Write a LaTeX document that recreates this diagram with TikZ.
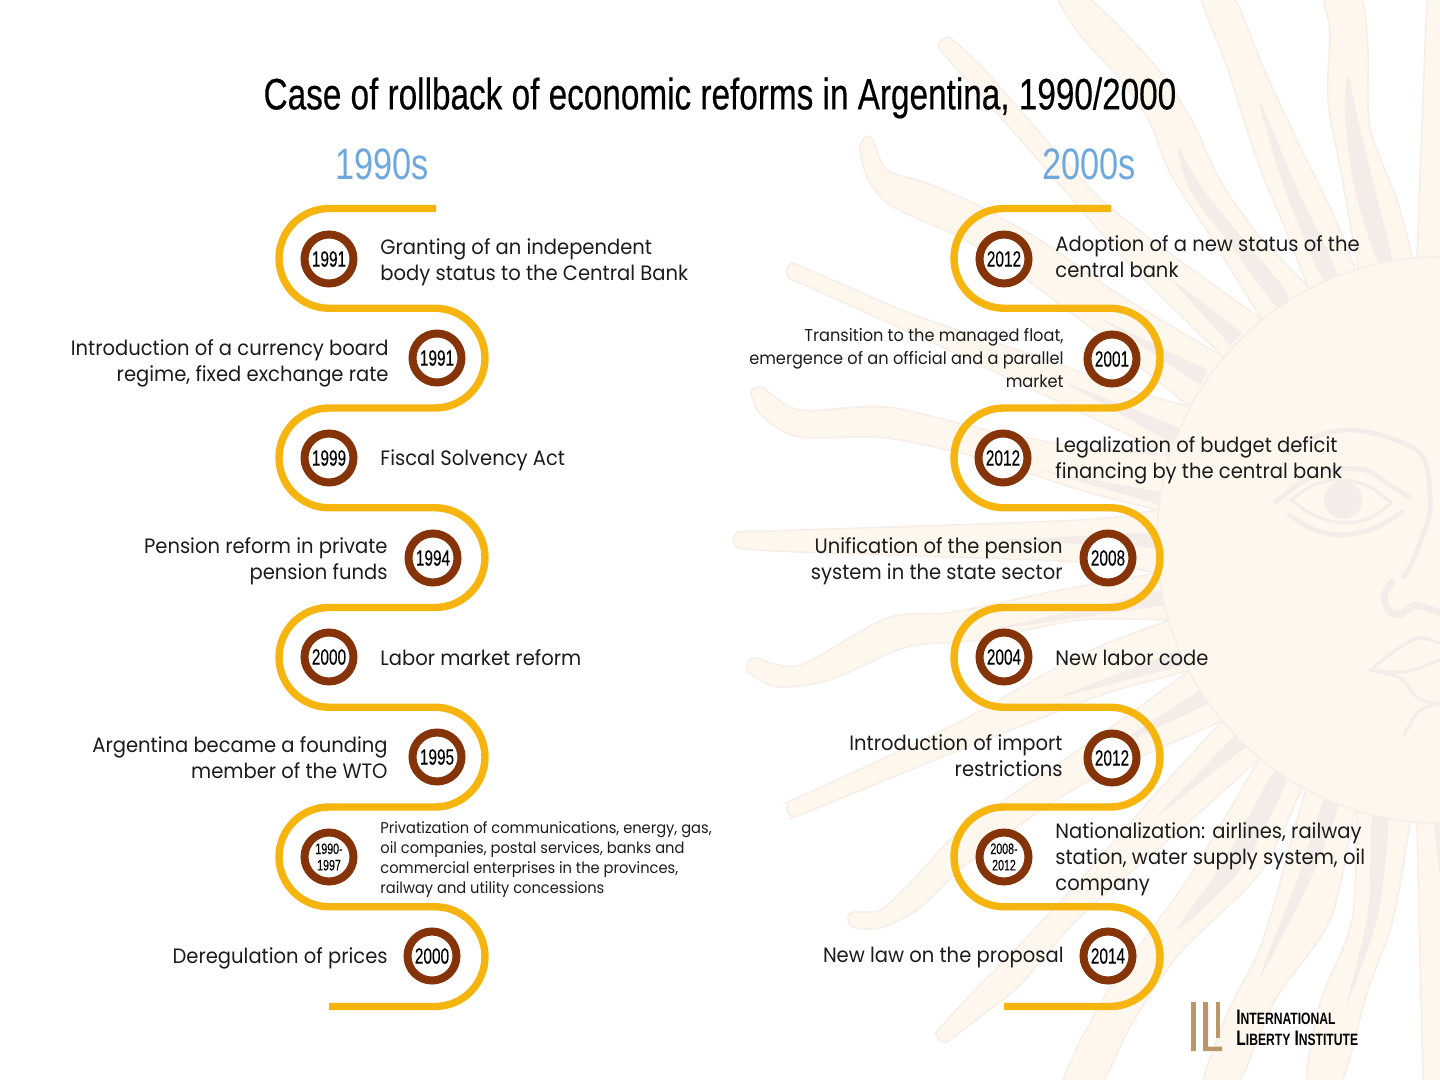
\documentclass[tikz,border=0pt]{standalone}
\usepackage{fontspec}
\setmainfont[FakeStretch=0.94]{Poppins}
\newfontfamily\oswald[FakeStretch=0.70,FakeBold=0.08]{Liberation Sans}
\newfontfamily\oswaldtitle[FakeStretch=0.757,FakeBold=0.3]{Liberation Sans}
\newfontfamily\oswaldlight[FakeStretch=0.78]{Liberation Sans}
\newfontfamily\oswaldbold[FakeStretch=0.74]{Liberation Sans Bold}
\definecolor{sunfill}{HTML}{FEF7ED}
\definecolor{sunline}{HTML}{F6EEE8}
\definecolor{sunshade}{HTML}{F4ECE8}
\definecolor{snakegold}{HTML}{F6B40E}
\definecolor{ringbrown}{HTML}{85340A}
\definecolor{headblue}{HTML}{6FA8DC}
\definecolor{logobrown}{HTML}{BC966B}
\definecolor{bodyink}{HTML}{1C1C1C}
\newcommand{\logocaps}[2]{{\fontsize{10.5}{10.5}\selectfont #1}{\fontsize{8.2}{10.5}\selectfont #2}}
\tikzset{
    sunray/.style={fill=sunfill,draw=sunline,line width=0.8pt},
    sunstripe/.style={fill=sunshade},
    faceline/.style={draw=sunshade,line width=1.6pt,line cap=round},
    snakeline/.style={draw=snakegold,line width=3.7pt,rounded corners=25pt},
    yearring/.style={circle,draw=ringbrown,fill=white,line width=4pt,minimum size=24.5pt,inner sep=0pt,
        font=\oswald\fontsize{11}{11}\selectfont},
    yearsmall/.style={yearring,align=center,font=\oswald\fontsize{7.6}{8.2}\selectfont},
    stepleft/.style={anchor=west,inner sep=0pt,align=left,text=bodyink,font=\fontsize{10.4}{13}\selectfont},
    stepright/.style={anchor=east,inner sep=0pt,align=right,text=bodyink,font=\fontsize{10.4}{13}\selectfont},
    header/.style={inner sep=0pt,text=headblue,font=\oswaldlight\fontsize{22}{22}\selectfont},
}
\begin{document}
\begin{tikzpicture}[x=0.5pt,y=-0.5pt]
    \useasboundingbox (0,0) rectangle (1440,1080);

    % Draw sun behind the text
    \begin{scope}
        \clip (0,0) rectangle (1440,1080);

        % upper rays
        \draw[sunray] plot[smooth cycle] coordinates {(1085,-5) (1153,63) (1190,117) (1220,180) (1257,233) (1308,287) (1330,320) (1280,340) (1262,320) (1213,240) (1170,173) (1150,123) (1123,83) (1080,35) (1057,-5)};
        \draw[sunray] plot[smooth cycle] coordinates {(1201,-5) (1227,67) (1257,160) (1287,233) (1308,287) (1320,310) (1370,300) (1355,267) (1330,207) (1297,140) (1263,67) (1232,-5)};
        \draw[sunray] plot[smooth cycle] coordinates {(1325,-5) (1330,33) (1328,100) (1343,183) (1358,267) (1365,300) (1415,290) (1412,257) (1397,200) (1370,127) (1368,50) (1360,-5)};
        \draw[sunray] (1427,-5) -- (1417,257) -- (1417,300) -- (1470,300) -- (1470,-5) -- cycle;
        \draw[sunray] plot[smooth cycle] coordinates {(945,38) (953,40) (985,70) (1014,103) (1110,207) (1262,320) (1290,345) (1250,385) (1223,357) (1130,265) (1060,185) (997,113) (965,78) (942,52) (938,44)};
        \draw[sunray] plot[smooth cycle] coordinates {(865,137) (873,140) (887,170) (927,183) (977,205) (1040,240) (1120,295) (1223,357) (1245,375) (1215,425) (1190,407) (1100,335) (1020,275) (960,237) (927,223) (887,203) (867,177) (860,150)};
        \draw[sunray] plot[smooth cycle] coordinates {(786,271) (790,265) (798,265) (860,292) (920,317) (1053,362) (1130,390) (1190,407) (1215,418) (1195,470) (1170,455) (1080,412) (933,343) (860,310) (800,283) (790,279)};
        \draw[sunray] plot[smooth cycle] coordinates {(752,390) (763,388) (800,410) (887,407) (987,430) (1080,447) (1170,455) (1195,460) (1185,515) (1158,510) (1080,490) (987,460) (887,438) (800,437) (763,417) (752,397)};
        \draw[sunray] plot[smooth cycle] coordinates {(733,540) (737,533) (745,531.5) (800,530) (1080,520) (1158,510) (1190,510) (1190,575) (1158,573) (1080,562) (800,552) (745,549) (737,547)};

        % lower rays
        \draw[sunray] plot[smooth cycle] coordinates {(748,664) (755,658) (800,665) (887,618) (953,612) (1060,590) (1158,573) (1185,570) (1195,620) (1170,620) (1080,620) (980,640) (907,647) (830,680) (777,687) (748,672)};
        \draw[sunray] plot[smooth cycle] coordinates {(787,810) (788,803) (795,799) (880,760) (963,720) (1080,655) (1170,620) (1195,612) (1215,660) (1190,670) (1110,692) (1057,712) (930,762) (800,815) (792,816)};
        \draw[sunray] plot[smooth cycle] coordinates {(848,917) (853,912) (880,910) (910,883) (953,837) (1000,803) (1100,735) (1190,670) (1215,650) (1245,700) (1223,720) (1100,775) (1037,813) (963,867) (917,910) (880,928) (853,927)};
        \draw[sunray] plot[smooth cycle] coordinates {(938,1030) (975,990) (1010,955) (1080,880) (1150,800) (1223,720) (1250,695) (1285,735) (1260,758) (1180,830) (1080,917) (1020,985) (985,1013) (950,1040) (942,1042) (937,1036)};
        \draw[sunray] plot[smooth cycle] coordinates {(1062,1085) (1110,987) (1187,880) (1260,758) (1280,730) (1325,765) (1302,790) (1260,873) (1180,953) (1130,1027) (1100,1085)};
        \draw[sunray] plot[smooth cycle] coordinates {(1203,1085) (1230,1007) (1263,940) (1305,792) (1315,770) (1365,785) (1355,812) (1330,920) (1275,1000) (1237,1085)};
        \draw[sunray] plot[smooth cycle] coordinates {(1307,1085) (1320,1003) (1352,920) (1357,813) (1362,785) (1415,795) (1410,823) (1393,920) (1367,993) (1340,1085)};
        \draw[sunray] (1423,1085) -- (1417,823) -- (1417,790) -- (1470,790) -- (1470,1085) -- cycle;

        % shaded stripes on rays
        \fill[sunstripe] plot[smooth cycle] coordinates {(1178,147) (1190,190) (1230,245) (1277,307) (1287,293) (1240,235) (1200,185)};
        \fill[sunstripe] plot[smooth cycle] coordinates {(1260,103) (1285,190) (1323,280) (1337,273) (1300,195)};
        \fill[sunstripe] plot[smooth cycle] coordinates {(1348,77) (1345,117) (1355,190) (1377,260) (1392,260) (1375,190) (1358,120)};
        \fill[sunstripe] (1170,278) -- (1230,345) -- (1243,333) -- cycle;
        \fill[sunstripe] (1100,318) -- (1200,385) -- (1208,370) -- cycle;
        \fill[sunstripe] (1060,380) -- (1175,445) -- (1180,428) -- cycle;
        \fill[sunstripe] (1040,470) -- (1160,505) -- (1160,492) -- cycle;
        \fill[sunstripe] (1000,540) -- (1160,548) -- (1160,532) -- cycle;
        \fill[sunstripe] (980,632) -- (1167,605) -- (1165,590) -- cycle;
        \fill[sunstripe] (1050,700) -- (1185,665) -- (1180,650) -- cycle;
        \fill[sunstripe] (1100,755) -- (1212,702) -- (1200,690) -- cycle;
        \fill[sunstripe] (1153,820) -- (1248,745) -- (1235,735) -- cycle;
        \fill[sunstripe] plot[smooth cycle] coordinates {(1177,930) (1225,860) (1272,775) (1286,782) (1240,870)};
        \fill[sunstripe] plot[smooth cycle] coordinates {(1260,977) (1297,880) (1324,800) (1338,806) (1308,885)};
        \fill[sunstripe] plot[smooth cycle] coordinates {(1347,1003) (1368,913) (1372,818) (1388,818) (1378,915)};
        \fill[sunstripe] (1440,880) -- (1434,823) -- (1452,823) -- cycle;

        % disk
        \draw[sunray] (1440,540) circle (141.5pt);

        % eye
        \fill[sunshade] (1343,500) circle (9.5pt);
        \draw[faceline] plot[smooth] coordinates {(1291,500) (1315,484) (1343,480) (1370,487) (1391,503)};
        \draw[faceline] plot[smooth] coordinates {(1291,500) (1315,516) (1343,523) (1370,518) (1391,503)};
        \draw[faceline,line width=2.4pt] plot[smooth] coordinates {(1276,502) (1300,483) (1330,470) (1365,470) (1390,485) (1409,497)};
        \draw[faceline,line width=2.4pt] plot[smooth] coordinates {(1289,515) (1315,530) (1343,535) (1375,528) (1402,512)};
        % brow and nose
        \draw[faceline,line width=2.4pt] plot[smooth] coordinates {(1287,453) (1320,435) (1353,430) (1390,438) (1423,457) (1430,510) (1413,560) (1403,577)};
        \draw[faceline,line width=3.4pt] plot[smooth] coordinates {(1392,582) (1384,597) (1390,612) (1402,614) (1415,605) (1440,613)};
        % mouth
        \draw[faceline] plot[smooth] coordinates {(1370,670) (1400,647) (1420,638) (1440,643)};
        \draw[faceline] plot[smooth] coordinates {(1370,670) (1400,678) (1418,698) (1440,705)};
        \draw[faceline] plot[smooth] coordinates {(1370,670) (1405,672) (1440,660)};
        \draw[faceline] plot[smooth] coordinates {(1440,702) (1418,712) (1404,736)};
    \end{scope}

    % Draw title and column headers
    \node[inner sep=0pt,font=\oswaldtitle\fontsize{22}{22}\selectfont] (title) at (720,98) {Case of rollback of economic reforms in Argentina, 1990/2000};
    \node[header] (headleft) at (382,164) {1990s};
    \node[header] (headright) at (1089,164) {2000s};

    % Draw left column
    \begin{scope}
        \draw[snakeline] (436,208.5) -- (279,208.5) -- (279,308.25) -- (485,308.25) -- (485,408) -- (279,408) -- (279,507.75) -- (485,507.75) -- (485,607.5) -- (279,607.5) -- (279,707.25) -- (485,707.25) -- (485,807) -- (279,807) -- (279,906.75) -- (485,906.75) -- (485,1006.5) -- (329,1006.5);

        \node[yearring] (yearA) at (329,259) {1991};
        \node[yearring] (yearB) at (437,358) {1991};
        \node[yearring] (yearC) at (329,458) {1999};
        \node[yearring] (yearD) at (433,558) {1994};
        \node[yearring] (yearE) at (329,657) {2000};
        \node[yearring] (yearF) at (437,757) {1995};
        \node[yearsmall] (yearG) at (329,857) {1990-\\1997};
        \node[yearring] (yearH) at (432,956) {2000};

        \node[stepleft] (stepA) at (380,262) {Granting of an independent\\body status to the Central Bank};
        \node[stepright] (stepB) at (389,363) {Introduction of a currency board\\regime, fixed exchange rate};
        \node[stepleft] (stepC) at (380,460) {Fiscal Solvency Act};
        \node[stepright] (stepD) at (388,561) {Pension reform in private\\pension funds};
        \node[stepleft] (stepE) at (380,658) {Labor market reform};
        \node[stepright] (stepF) at (388,758) {Argentina became a founding\\member of the WTO};
        \node[stepleft,font=\fontsize{7.8}{10}\selectfont] (stepG) at (380,859.5) {Privatization of communications, energy, gas,\\oil companies, postal services, banks and\\commercial enterprises in the provinces,\\railway and utility concessions};
        \node[stepright] (stepH) at (388,958) {Deregulation of prices};
    \end{scope}

    % Draw right column
    \begin{scope}[xshift=337.5pt]
        \draw[snakeline] (436,208.5) -- (279,208.5) -- (279,308.25) -- (485,308.25) -- (485,408) -- (279,408) -- (279,507.75) -- (485,507.75) -- (485,607.5) -- (279,607.5) -- (279,707.25) -- (485,707.25) -- (485,807) -- (279,807) -- (279,906.75) -- (485,906.75) -- (485,1006.5) -- (329,1006.5);

        \node[yearring] (yearI) at (329,259) {2012};
        \node[yearring] (yearJ) at (437,359) {2001};
        \node[yearring] (yearK) at (328,458) {2012};
        \node[yearring] (yearL) at (433,558) {2008};
        \node[yearring] (yearM) at (329,657) {2004};
        \node[yearring] (yearN) at (437,758) {2012};
        \node[yearsmall] (yearO) at (329,857) {2008-\\2012};
        \node[yearring] (yearP) at (433,956) {2014};

        \node[stepleft] (stepI) at (380,257) {Adoption of a new status of the\\central bank};
        \node[stepright,font=\fontsize{8.6}{11.5}\selectfont] (stepJ) at (389,358) {Transition to the managed float,\\emergence of an official and a parallel\\market};
        \node[stepleft] (stepK) at (380,460) {Legalization of budget deficit\\financing by the central bank};
        \node[stepright] (stepL) at (388,561) {Unification of the pension\\system in the state sector};
        \node[stepleft] (stepM) at (380,658) {New labor code};
        \node[stepright] (stepN) at (388,756) {Introduction of import\\restrictions};
        \node[stepleft] (stepO) at (380,859) {Nationalization: airlines, railway\\station, water supply system, oil\\company};
        \node[stepright] (stepP) at (389,958) {New law on the proposal};
    \end{scope}

    % Draw logo
    \fill[logobrown] (1191,1002) rectangle (1195.5,1051);
    \fill[logobrown] (1203,1002) -- (1208,1002) -- (1208,1046.5) -- (1222,1046.5) -- (1222,1051) -- (1203,1051) -- cycle;
    \fill[logobrown] (1215.5,1002) rectangle (1220,1038);
    \node[anchor=west,inner sep=0pt,font=\oswaldbold] (logoA) at (1236,1017) {\logocaps{I}{NTERNATIONAL}};
    \node[anchor=west,inner sep=0pt,font=\oswaldbold] (logoB) at (1236,1038) {\logocaps{L}{IBERTY} \logocaps{I}{NSTITUTE}};
\end{tikzpicture}
\end{document}
